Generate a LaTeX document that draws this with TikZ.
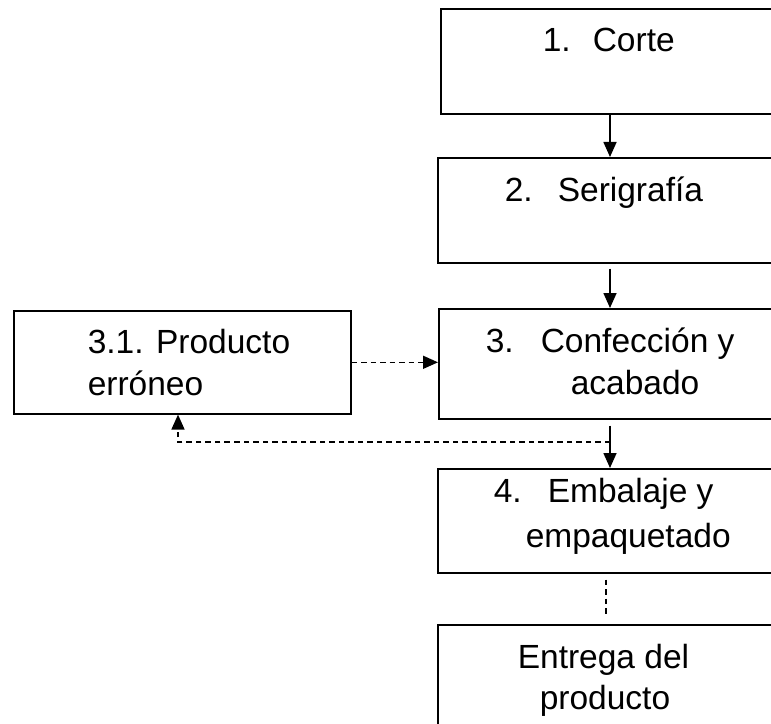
\documentclass[tikz,border=0pt]{standalone}
\usepackage{fontspec}
\setmainfont{Liberation Sans}
\usetikzlibrary{arrows.meta, positioning}

\begin{document}
\begin{tikzpicture}[x=1bp, y=-1bp, line width=1.6bp,
        box/.style={draw, rectangle, anchor=north west, inner sep=0pt},
        txt/.style={anchor=base west, inner sep=0pt, font=\fontsize{33.5bp}{40bp}\selectfont},
        arr/.style={-{Triangle[length=15bp,width=13bp]}},
        dasharr/.style={arr, dash pattern=on 5.5bp off 4bp}]
            \useasboundingbox (0,0) rectangle (771,724);
            \clip (0,0) rectangle (771,724);

            % process boxes (right side runs off the page)
            \node[box, minimum width=350bp, minimum height=105bp] at (440,8)   (b1) {};
            \node[box, minimum width=353bp, minimum height=105bp] at (437,157) (b2) {};
            \node[box, minimum width=352bp, minimum height=110bp] at (438,308) (b3) {};
            \node[box, minimum width=353bp, minimum height=104bp] at (437,468) (b4) {};
            \node[box, minimum width=353bp, minimum height=120bp] at (437,624) (b5) {};
            \node[box, minimum width=337bp, minimum height=103bp] at (13,310)  (b31) {};

            % texts
            \node[txt] at (542,52)  (t1)  {1.};
            \node[txt] at (592,52)  (t1b) {Corte};
            \node[txt] at (504,201) (t2)  {2.};
            \node[txt] at (557,201) (t2b) {Serigrafía};
            \node[txt] at (485,352) (t3)  {3.};
            \node[txt] at (540,352) (t3b) {Confección y};
            \node[txt] at (570,394) (t3c) {acabado};
            \node[txt] at (493,502) (t4)  {4.};
            \node[txt] at (547,502) (t4b) {Embalaje y};
            \node[txt] at (525,547) (t4c) {empaquetado};
            \node[txt] at (517,668) (t5)  {Entrega del};
            \node[txt] at (539,709) (t5b) {producto};
            \node[txt] at (87,353)  (t31) {3.1. Producto};
            \node[txt] at (87,395)  (t31b) {erróneo};

            \coordinate (axis) at (610,0);
            \coordinate (fb) at (610,442);
            \coordinate (back) at (178,0);

            \draw[arr] (b1.south -| axis) -- (b2.north -| axis);
            \draw[arr, shorten <=5bp] (b2.south -| axis) -- (b3.north -| axis);
            \draw[arr, shorten <=6bp] (b3.south -| axis) -- (b4.north -| axis);
            \draw[dasharr] (b31.east) -- (b3.west |- b31.east);
            \draw[dasharr] (fb) -| (b31.south -| back);
            \draw[dash pattern=on 5.5bp off 4bp, shorten <=6bp, shorten >=7bp] (b4.south -| 606,0) -- (b5.north -| 606,0);
        \end{tikzpicture}
\end{document}
